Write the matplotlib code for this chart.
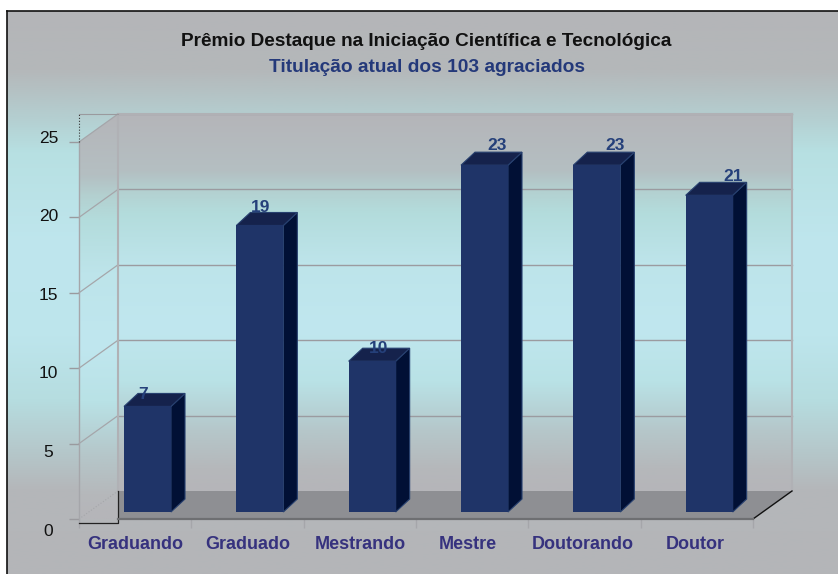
import numpy as np
import matplotlib
matplotlib.use("Agg")
import matplotlib.pyplot as plt
from matplotlib.colors import LinearSegmentedColormap
from matplotlib.patches import Polygon, Rectangle

plt.rcParams['font.family'] = ['Liberation Sans', 'DejaVu Sans']

categories = ["Graduando", "Graduado", "Mestrando", "Mestre", "Doutorando", "Doutor"]
values = [7, 19, 10, 23, 23, 21]
yticks = [0, 5, 10, 15, 20, 25]
title = "Prêmio Destaque na Iniciação Científica e Tecnológica"
subtitle = "Titulação atual dos 103 agraciados"

W, H = 838, 574
NAVY = "#1f3468"
bg_cmap = LinearSegmentedColormap.from_list("bg", [
    (0.0, "#b4b5b8"), (0.105, "#b4b8ba"), (0.19, "#b4cfd1"), (0.25, "#b7e0e2"),
    (0.42, "#bfe6ee"), (0.58, "#bde5ec"), (0.69, "#b6dde0"), (0.78, "#b5c8cb"),
    (0.85, "#b4b7ba"), (1.0, "#b4b5b8")])
wall_cmap = LinearSegmentedColormap.from_list("wall", [
    (0.0, "#b5b5b9"), (0.15, "#b4bfc2"), (0.20, "#b3d0d0"), (0.26, "#b3dcdc"),
    (0.39, "#bde4ea"), (0.57, "#c0e7ef"), (0.71, "#b9e2e6"), (0.84, "#b5c7ca"),
    (0.94, "#b5b8bb"), (1.0, "#b5b5b9")])
grad = np.linspace(0, 1, 256).reshape(-1, 1)

fig = plt.figure(figsize=(W / 100, H / 100), dpi=100, facecolor="white")

def fig_rect(x0, y0, x1, y1):
    return [x0 / W, 1 - y1 / H, (x1 - x0) / W, (y1 - y0) / H]

bg = fig.add_axes(fig_rect(7, 11, 838, 574))
bg.imshow(grad, cmap=bg_cmap, aspect="auto", extent=[0, 1, 0, 1], vmin=0, vmax=1)
bg.set_xticks([])
bg.set_yticks([])
for name, s in bg.spines.items():
    s.set_visible(name in ("left", "top"))
    s.set_color("#111111")
    s.set_linewidth(1.2)

# axes covers the whole box, front plane starts at data (0, 0)
ax = fig.add_axes(fig_rect(79, 114, 792, 519), facecolor="none")
n = len(categories)
ymax = yticks[-1]

# depth of box and bars, in data units
dx, dy = 39 / 112.33, 28 / 15.08
bx, by = 14 / 112.33, 13 / 15.08
bar_l, bar_w = 45 / 112.33, 47 / 112.33
bar_base = 7 / 15.08
for s in ax.spines.values():
    s.set_visible(False)

# back wall and side wall
wall = Polygon([(dx, dy), (n + dx, dy), (n + dx, ymax + dy), (dx, ymax + dy)], closed=True,
               fc="none", ec="none")
ax.add_patch(wall)
im = ax.imshow(grad, cmap=wall_cmap, aspect="auto", extent=[dx, n + dx, dy, ymax + dy],
               vmin=0, vmax=1, zorder=1)
im.set_clip_path(wall)
side = Polygon([(0, 0), (dx, 0), (dx, ymax + dy), (0, ymax)], closed=True, fc="none", ec="none")
ax.add_patch(side)
im2 = ax.imshow(grad, cmap=wall_cmap, aspect="auto", extent=[0, dx, 0, ymax + dy],
                vmin=0, vmax=1, zorder=1)
im2.set_clip_path(side)
ax.set_xlim(0, n + dx)
ax.set_ylim(0, ymax + dy)

# floor
ax.add_patch(Polygon([(dx, 0), (n, 0), (n + dx, dy), (dx, dy)], closed=True, fc="#8e8f93", ec="none",
                     zorder=2, clip_on=False))
grid_c = "#9b9ba0"
edge_c = "#b0b1b5"
for v in yticks[1:]:
    ax.plot([dx, n + dx], [v + dy, v + dy], color=grid_c, lw=1, zorder=2, clip_on=False)
    ax.plot([0, dx], [v, v + dy], color="#a5a6aa", lw=0.9, zorder=2, clip_on=False)
ax.plot([dx, dx], [dy, ymax + dy], color=edge_c, lw=1.5, zorder=2, clip_on=False)
ax.plot([n + dx, n + dx], [dy, ymax + dy], color=edge_c, lw=1.5, zorder=2, clip_on=False)
ax.plot([dx, n + dx], [ymax + dy, ymax + dy], color=edge_c, lw=1.5, zorder=2, clip_on=False)
ax.plot([0, 0], [0, ymax], color="#a5a6aa", lw=1, zorder=2, clip_on=False)
ax.plot([0, 0], [ymax, ymax + dy], color="#333333", lw=0.8, ls=":", zorder=2, clip_on=False)
ax.plot([0, dx], [ymax + dy, ymax + dy], color="#9a9a9e", lw=0.8, zorder=2, clip_on=False)
ax.plot([0, dx], [0, dy], color="#a5a6aa", lw=0.8, ls=":", zorder=2, clip_on=False)

# black corner lines
ax.plot([0, dx, dx], [-0.25, -0.25, dy], color="#222222", lw=0.9, zorder=3, clip_on=False)
ax.plot([n, n + dx], [0, dy], color="#111111", lw=1, zorder=3, clip_on=False)
ax.plot([dx, n], [0, 0], color="#6e6f72", lw=1.6, zorder=3, clip_on=False)

# value labels sit on a slightly wider grid than the bars
lab_sx, lab_x0 = 118 / 112.33, 64 / 112.33
lab_sy, lab_y0 = 1.035, 0.68

for i, v in enumerate(values):
    x0 = i + bar_l
    x1 = x0 + bar_w
    y0 = bar_base
    y1 = bar_base + v
    ax.add_patch(Polygon([(x1, y0), (x1 + bx, y0 + by), (x1 + bx, y1 + by), (x1, y1)], closed=True,
                         fc="#011035", ec="#27406f", lw=0.8, zorder=5, clip_on=False))
    ax.add_patch(Polygon([(x0, y1), (x1, y1), (x1 + bx, y1 + by), (x0 + bx, y1 + by)], closed=True,
                         fc="#15224c", ec="#27406f", lw=0.8, zorder=5, clip_on=False))
    ax.add_patch(Rectangle((x0, y0), bar_w, v, fc=NAVY, ec="none", zorder=6, clip_on=False))
    ax.text(i * lab_sx + lab_x0, lab_sy * v + lab_y0, str(v), ha="center", va="baseline", fontsize=12.5,
            fontweight="bold", color="#25407a", zorder=7, clip_on=False)

ax.set_yticks(yticks)
ax.set_yticklabels([])
ax.tick_params(axis="y", length=7, width=1, color="#9a9a9e")
for v in yticks:
    ax.text(-30.5 / 112.33, 1.042 * v - 0.8, str(v), ha="center", va="center", fontsize=12.5,
            color="#111111", clip_on=False)
ax.set_xticks(range(n + 1))
ax.set_xticklabels([])
ax.tick_params(axis="x", length=6.5, width=1, color="#a5a6aa")
nudge = [0, 0, 0, -0.035, -0.02, -0.015]
for i, c in enumerate(categories):
    ax.text(i + 0.5 + nudge[i], -1.72, c, ha="center", va="center", fontsize=13, fontweight="bold",
            color="#36327e", clip_on=False)

fig.text(426 / W, 1 - 41 / H, title, ha="center", va="center", fontsize=13.7, fontweight="bold", color="#111111")
fig.text(427 / W, 1 - 67 / H, subtitle, ha="center", va="center", fontsize=13.8, fontweight="bold", color="#24397a")

fig.savefig("out.png", dpi=100, facecolor="white")
